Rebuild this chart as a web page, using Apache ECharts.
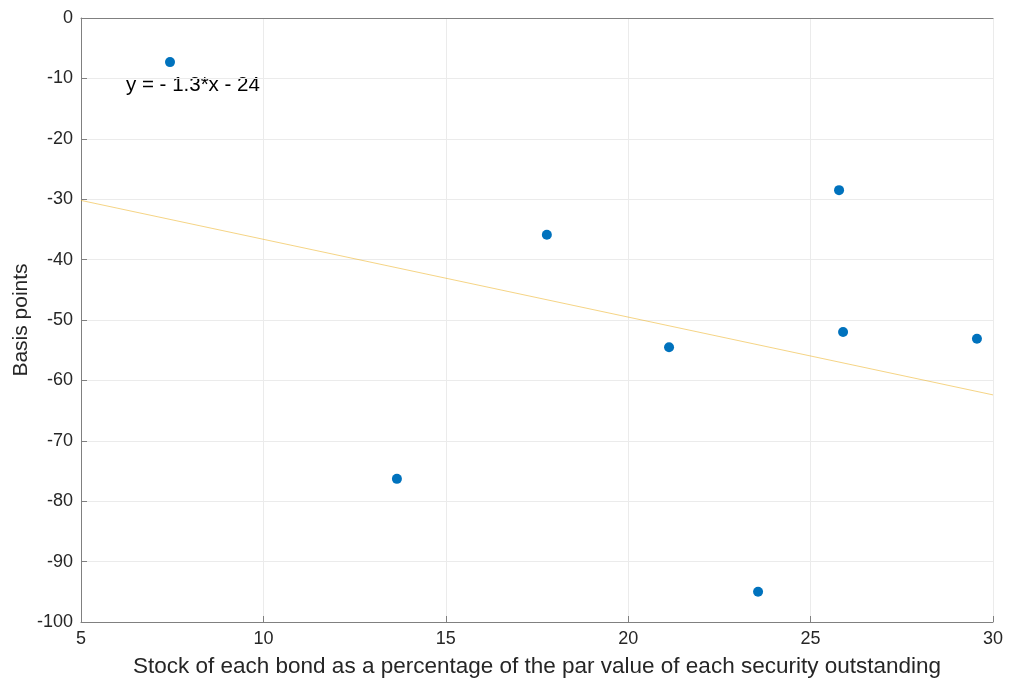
<!DOCTYPE html>
<html><head><meta charset="utf-8">
<script src="https://cdn.jsdelivr.net/npm/echarts@6/dist/echarts.min.js"></script>
<style>html,body{margin:0;padding:0;background:#fff}#c{width:1010px;height:682px}</style>
</head><body><div id="c"></div>
<script>
const xValues = [7.44, 13.66, 17.77, 21.12, 23.56, 25.78, 25.89, 29.56];
const yValues = [-7.3, -76.3, -35.9, -54.5, -95.0, -28.5, -52.0, -53.1];
const fitX = [5, 30];
const fitY = [-30.2, -62.4];
const xTicks = [5, 10, 15, 20, 25, 30];
const yTicks = [-100, -90, -80, -70, -60, -50, -40, -30, -20, -10, 0];
const fitLabel = 'y = - 1.3*x - 24';
const xTitle = 'Stock of each bond as a percentage of the par value of each security outstanding';
const yTitle = 'Basis points';

const font = '"Liberation Sans", Arial, Helvetica, sans-serif';
const chart = echarts.init(document.getElementById('c'));
chart.setOption({
  animation: false,
  grid: {left: 81, right: 17, top: 18, bottom: 60, containLabel: false, outerBoundsMode: 'none'},
  xAxis: [{
    type: 'value', min: xTicks[0], max: xTicks[xTicks.length-1], interval: 5,
    name: xTitle, nameLocation: 'middle', nameGap: 33, nameMoveOverlap: false,
    nameTextStyle: {fontFamily: font, fontSize: 22.5, color: '#262626'},
    axisLine: {show: true, onZero: false, lineStyle: {color: '#808080', width: 1}},
    axisTick: {show: true, inside: true, length: 6, lineStyle: {color: '#808080'}},
    axisLabel: {fontFamily: font, fontSize: 18, color: '#262626', margin: 8},
    splitLine: {show: true, lineStyle: {color: '#ebebeb', width: 1}}
  }, {
    type: 'value', position: 'top', min: 5, max: 30, interval: 5,
    axisLine: {show: true, lineStyle: {color: '#808080', width: 1}},
    axisTick: {show: false}, axisLabel: {show: false}, splitLine: {show: false}
  }],
  yAxis: {
    type: 'value', min: yTicks[0], max: yTicks[yTicks.length-1], interval: 10,
    name: yTitle, nameLocation: 'middle', nameGap: 49, nameMoveOverlap: false,
    nameTextStyle: {fontFamily: font, fontSize: 21, color: '#262626'},
    axisLine: {show: true, onZero: false, lineStyle: {color: '#808080', width: 1}},
    axisTick: {show: true, inside: true, length: 6, lineStyle: {color: '#808080'}},
    axisLabel: {fontFamily: font, fontSize: 18, color: '#262626', margin: 8},
    splitLine: {show: true, lineStyle: {color: '#ebebeb', width: 1}}
  },
  series: [{
    type: 'line', data: fitX.map((x, i) => [x, fitY[i]]),
    symbol: 'none', lineStyle: {color: '#EDB120', width: 1, opacity: 0.55}, z: 2
  }, {
    type: 'scatter', data: xValues.map((x, i) => [x, yValues[i]]),
    symbolSize: 10, itemStyle: {color: '#0072BD', opacity: 1}, z: 3
  }],
  graphic: [{
    type: 'text', left: 126, top: 75,
    style: {text: fitLabel, fontFamily: font, fontSize: 20.5, fill: '#000'}
  }]
});
</script></body></html>
